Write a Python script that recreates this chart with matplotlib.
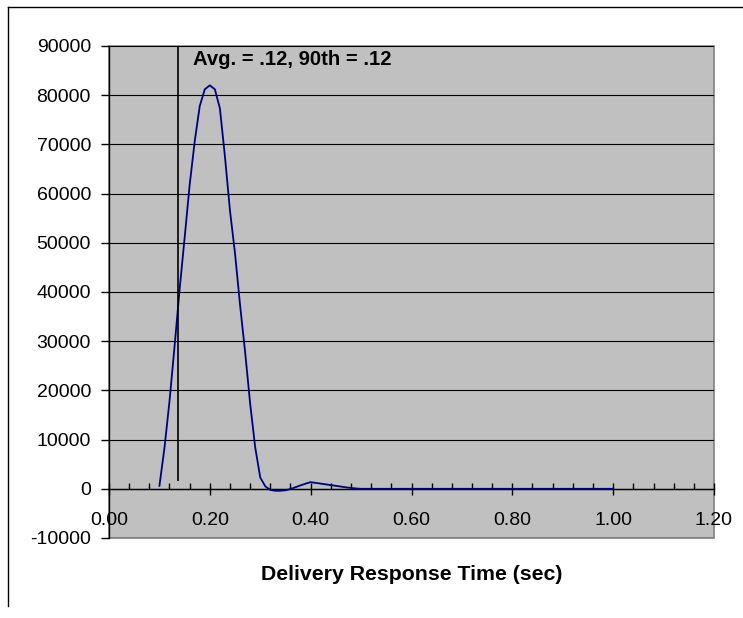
import matplotlib
matplotlib.use('Agg')
import matplotlib.pyplot as plt
from matplotlib.lines import Line2D
from matplotlib.patches import Rectangle
import numpy as np

plt.rcParams['font.family'] = ['Liberation Sans', 'DejaVu Sans']
plt.rcParams['axes.unicode_minus'] = False

# response time (sec) and number of deliveries
resp_time = [0.10, 0.11, 0.12, 0.13, 0.14, 0.15, 0.16, 0.17, 0.18, 0.19,
             0.20, 0.21, 0.22, 0.23, 0.24, 0.25, 0.26, 0.27, 0.28, 0.29,
             0.30, 0.31, 0.32, 0.33, 0.34, 0.35, 0.36, 0.37, 0.38, 0.39,
             0.40, 0.41, 0.42, 0.43, 0.44, 0.45, 0.46, 0.47, 0.48, 0.49,
             0.50, 0.60, 0.70, 0.80, 0.90, 1.00]
counts = [600, 8300, 17800, 28900, 40500, 51000, 61800, 70600, 77800, 81200,
          82000, 81200, 77300, 67500, 56500, 47800, 37300, 27800, 17300, 8400,
          2300, 500, -250, -400, -400, -300, -50, 330, 700, 1050,
          1350, 1200, 1050, 900, 750, 600, 450, 300, 170, 70,
          0, 0, 0, 0, 0, 0]

avg_x = 0.137
avg_line = (1600, 90000)
note = 'Avg. = .12, 90th = .12'
note_pos = (0.167, 87200)
x_label = 'Delivery Response Time (sec)'

W, H = 743, 618
fig = plt.figure(figsize=(W / 100, H / 100), dpi=100)
ax = fig.add_axes([109 / W, 1 - 538 / H, (714 - 109) / W, (538 - 46) / H])
ax.set_facecolor('#C0C0C0')

ax.plot(resp_time, counts, color='#000080', lw=1.3, zorder=3)
ax.vlines(avg_x, avg_line[0], avg_line[1], color='black', lw=1.2, zorder=3)
ax.text(note_pos[0], note_pos[1], note, fontsize=14.6, fontweight='bold',
        va='center', ha='left')

ax.set_xlim(0, 1.2)
ax.set_ylim(-10000, 90000)
ax.set_xticks(np.arange(0, 1.21, 0.2))
ax.set_xticks(np.arange(0, 1.21, 0.04), minor=True)
ax.set_yticks(np.arange(-10000, 90001, 10000))
ax.xaxis.set_major_formatter(plt.FormatStrFormatter('%.2f'))
ax.yaxis.set_major_formatter(plt.FormatStrFormatter('%d'))

ax.yaxis.grid(True, color='black', lw=0.8)
ax.set_axisbelow(True)

for s in ['top', 'right']:
    ax.spines[s].set_visible(False)
ax.spines['bottom'].set_position(('data', 0))
ax.spines['bottom'].set_linewidth(1)
ax.spines['left'].set_linewidth(1)
ax.add_patch(Rectangle((0, 0), 1, 1, transform=ax.transAxes, fill=False,
                       edgecolor='#808080', lw=1.2, clip_on=False, zorder=0.5))

ax.tick_params(axis='x', which='major', direction='inout', length=9, width=1,
               pad=12, labelsize=14)
ax.tick_params(axis='x', which='minor', direction='in', length=4, width=1)
ax.tick_params(axis='y', which='major', direction='out', length=6, width=1,
               pad=7, labelsize=14)

ax.set_xlabel(x_label, fontsize=15.3, fontweight='bold', va='center')
ax.xaxis.set_label_coords(0.5, -(574 - 538) / (538 - 46))

# outer chart frame
fig.add_artist(Line2D([8 / W, 1], [1 - 7 / H, 1 - 7 / H], color='black', lw=1,
                      transform=fig.transFigure))
fig.add_artist(Line2D([8 / W, 8 / W], [1 - 7 / H, 1 - 606 / H], color='black', lw=1,
                      transform=fig.transFigure))

fig.savefig('out.png', dpi=100)
